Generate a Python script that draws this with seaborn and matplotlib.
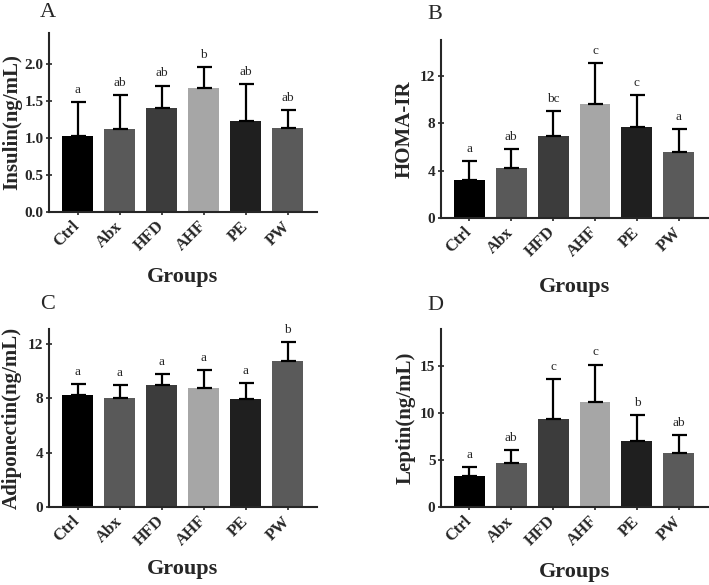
import matplotlib
matplotlib.use("Agg")
import matplotlib.pyplot as plt
import seaborn as sns
import pandas as pd
import numpy as np

groups = ["Ctrl", "Abx", "HFD", "AHF", "PE", "PW"]
colors = ["#000000", "#595959", "#3c3c3c", "#a6a6a6", "#1f1f1f", "#5a5a5a"]

insulin_mean = [1.03, 1.12, 1.40, 1.68, 1.23, 1.13]
insulin_err = [0.46, 0.46, 0.31, 0.28, 0.50, 0.25]
insulin_sig = ["a", "ab", "ab", "b", "ab", "ab"]

homa_mean = [3.23, 4.24, 6.91, 9.64, 7.67, 5.54]
homa_err = [1.60, 1.61, 2.14, 3.46, 2.70, 1.96]
homa_sig = ["a", "ab", "bc", "c", "c", "a"]

adipo_mean = [8.23, 8.01, 9.01, 8.79, 7.96, 10.75]
adipo_err = [0.83, 0.98, 0.81, 1.28, 1.18, 1.42]
adipo_sig = ["a", "a", "a", "a", "a", "b"]

leptin_mean = [3.34, 4.73, 9.38, 11.20, 7.04, 5.79]
leptin_err = [0.96, 1.35, 4.31, 4.01, 2.77, 1.92]
leptin_sig = ["a", "ab", "c", "c", "b", "ab"]

sns.set_style("ticks")
plt.rcParams["font.family"] = ["Liberation Serif", "DejaVu Serif"]

W, H = 709, 585
fig = plt.figure(figsize=(W / 100, H / 100), dpi=100)


def px_axes(l, t, r, b):
    return fig.add_axes([l / W, 1 - b / H, (r - l) / W, (b - t) / H])


panels = [
    dict(box=(49, 33, 317, 212), mean=insulin_mean, err=insulin_err, sig=insulin_sig,
         ylabel="Insulin(ng/mL)", ylim=2.42, ticks=[0, 0.5, 1.0, 1.5, 2.0], fmt="{:.1f}",
         letter="A", lpos=(40, 3), ylx=-0.136, xly=-0.31),
    dict(box=(441, 40, 708, 218), mean=homa_mean, err=homa_err, sig=homa_sig,
         ylabel="HOMA-IR", ylim=15.0, ticks=[0, 4, 8, 12], fmt="{:d}",
         letter="B", lpos=(427, 5), ylx=-0.135, xly=-0.33),
    dict(box=(49, 329, 317, 507), mean=adipo_mean, err=adipo_err, sig=adipo_sig,
         ylabel="Adiponectin(ng/mL)", ylim=13.1, ticks=[0, 4, 8, 12], fmt="{:d}",
         letter="C", lpos=(40, 295), ylx=-0.138, xly=-0.29),
    dict(box=(441, 329, 708, 507), mean=leptin_mean, err=leptin_err, sig=leptin_sig,
         ylabel="Leptin(ng/mL)", ylim=19.0, ticks=[0, 5, 10, 15], fmt="{:d}",
         letter="D", lpos=(427, 296), ylx=-0.133, xly=-0.31),
]

for p in panels:
    ax = px_axes(*p["box"])
    df = pd.DataFrame({"group": groups, "value": p["mean"]})
    sns.barplot(data=df, x="group", y="value", hue="group", order=groups,
                hue_order=groups, palette=colors, legend=False, width=0.74,
                errorbar=None, linewidth=0, ax=ax)
    x = np.arange(len(groups))
    ax.errorbar(x, p["mean"], yerr=[np.zeros(len(groups)), p["err"]], fmt="none",
                ecolor="black", elinewidth=1.6, capsize=5.4, capthick=1.6, zorder=3)
    for xi, m, e, s in zip(x, p["mean"], p["err"], p["sig"]):
        ax.annotate(s, (xi, m + e), xytext=(0, 6.5), textcoords="offset points",
                    ha="center", va="baseline", fontsize=9.5)
    ax.set_xlim(-0.68, 5.70)
    ax.set_ylim(0, p["ylim"])
    ax.set_yticks(p["ticks"])
    ax.set_yticklabels([p["fmt"].format(t) for t in p["ticks"]],
                       fontsize=11, fontweight="bold")
    ax.set_xticks(x)
    ax.set_xticklabels(groups, fontsize=12, fontweight="bold", rotation=45,
                       ha="right", va="center", rotation_mode="anchor")
    ax.tick_params(axis="both", direction="inout", length=5, width=1.2, pad=1.5)
    ax.tick_params(axis="x", pad=6)
    for side in ["top", "right"]:
        ax.spines[side].set_visible(False)
    for side in ["left", "bottom"]:
        ax.spines[side].set_linewidth(1.5)
    ax.set_ylabel(p["ylabel"], fontsize=15, fontweight="bold", va="center")
    ax.yaxis.set_label_coords(p["ylx"], 0.5)
    ax.set_xlabel("Groups", fontsize=16, fontweight="bold")
    ax.xaxis.set_label_coords(0.5, p["xly"])
    fig.text(p["lpos"][0] / W, 1 - p["lpos"][1] / H, p["letter"], fontsize=16,
             ha="left", va="top")

fig.savefig("out.png", dpi=100)
